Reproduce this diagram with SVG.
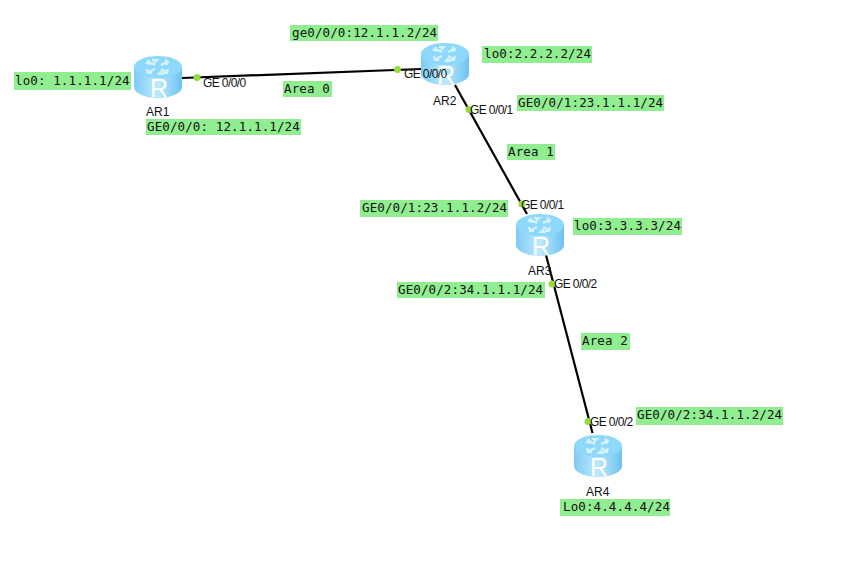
<svg xmlns="http://www.w3.org/2000/svg" width="863" height="564" viewBox="0 0 863 564">
<style>
.g{fill:#90ee90}
.m{font:12.5px "DejaVu Sans Mono","Liberation Mono",monospace;fill:#111;letter-spacing:.12px}
.s{font:12px "Liberation Sans",Arial,sans-serif;fill:#111;letter-spacing:-.6px}
.n{font:12px "Liberation Sans",Arial,sans-serif;fill:#111}
.l{stroke:#000;stroke-width:2.2;fill:none}
.d{fill:#96dc3c}
</style>
<defs>
<linearGradient id="b" x1="0" x2="1" y1="0" y2="0"><stop offset="0" stop-color="#7fcbf5"/><stop offset=".5" stop-color="#bdeafd"/><stop offset="1" stop-color="#6cc2f1"/></linearGradient>
<symbol id="r" width="48" height="42" viewBox="0 0 48 42" overflow="visible">
<path d="M0 11V31C0 37 11 42 24 42S48 37 48 31V11Z" fill="url(#b)"/>
<ellipse cx="24" cy="11" rx="24" ry="11" fill="#8ed8fb"/>
<g fill="none" stroke="#d6f2fd" stroke-width="2.200"><path d="M21 9L15 6M15 4l-2 3 4 1M27 9l6-3M31 4l3 2-2 3M21 13l-6 3M13 13l1 4 4 0M27 13l6 3M34 13l-1 4-4 0"/><path d="M18 4h5l-3 3M30 18h-5l3-3"/></g>
<text x="25" y="40.500" text-anchor="middle" style="font:25px 'Liberation Sans',Arial,sans-serif;fill:#fff">R</text>
</symbol>
</defs>
<rect width="863" height="564" fill="#fff"/>
<g id="connectors">
<path class="l" d="M182 78L421 69"/>
<path class="l" d="M455 85L527 214"/>
<path class="l" d="M546 255L592.500 433"/>
<circle class="d" cx="197" cy="77.500" r="3.500"/>
<circle class="d" cx="397.500" cy="69.500" r="3.500"/>
<circle class="d" cx="469" cy="109.500" r="3.500"/>
<circle class="d" cx="522" cy="204" r="3.500"/>
<circle class="d" cx="552" cy="284" r="3.500"/>
<circle class="d" cx="588" cy="421.500" r="3.500"/>
</g>
<g id="AR1"><use href="#r" x="134" y="56"/><text class="n" x="146" y="116">AR1</text></g>
<g id="AR2"><use href="#r" x="421" y="43"/><text class="n" x="433" y="105">AR2</text></g>
<g id="AR3"><use href="#r" x="516" y="214"/><text class="n" x="528" y="275">AR3</text></g>
<g id="AR4"><use href="#r" x="574" y="435"/><text class="n" x="586" y="496">AR4</text></g>
<g id="ports">
<text class="s" x="203" y="87">GE 0/0/0</text>
<text class="s" x="404" y="78">GE 0/0/0</text>
<text class="s" x="470" y="114">GE 0/0/1</text>
<text class="s" x="521" y="209">GE 0/0/1</text>
<text class="s" x="554" y="288">GE 0/0/2</text>
<text class="s" x="590" y="426">GE 0/0/2</text>
</g>
<g id="labels">
<rect class="g" x="14" y="72" width="117" height="18"/><text class="m" x="15" y="85">lo0: 1.1.1.1/24</text>
<rect class="g" x="146" y="119" width="155" height="16"/><text class="m" x="147" y="131">GE0/0/0: 12.1.1.1/24</text>
<rect class="g" x="290" y="25" width="148" height="16"/><text class="m" x="292" y="37">ge0/0/0:12.1.1.2/24</text>
<rect class="g" x="482" y="46" width="110" height="17"/><text class="m" x="484" y="58">lo0:2.2.2.2/24</text>
<rect class="g" x="283" y="81" width="49" height="16"/><text class="m" x="284" y="93">Area 0</text>
<rect class="g" x="517" y="95" width="147" height="16"/><text class="m" x="518" y="107">GE0/0/1:23.1.1.1/24</text>
<rect class="g" x="507" y="144" width="48" height="16"/><text class="m" x="508" y="156">Area 1</text>
<rect class="g" x="360" y="200" width="148" height="17"/><text class="m" x="362" y="212">GE0/0/1:23.1.1.2/24</text>
<rect class="g" x="573" y="218" width="109" height="17"/><text class="m" x="574" y="230">lo0:3.3.3.3/24</text>
<rect class="g" x="397" y="282" width="148" height="16"/><text class="m" x="398" y="294">GE0/0/2:34.1.1.1/24</text>
<rect class="g" x="581" y="333" width="49" height="17"/><text class="m" x="582" y="345">Area 2</text>
<rect class="g" x="636" y="407" width="147" height="18"/><text class="m" x="637" y="419">GE0/0/2:34.1.1.2/24</text>
<rect class="g" x="560" y="499" width="110" height="17"/><text class="m" x="563" y="511">Lo0:4.4.4.4/24</text>
</g>
</svg>
